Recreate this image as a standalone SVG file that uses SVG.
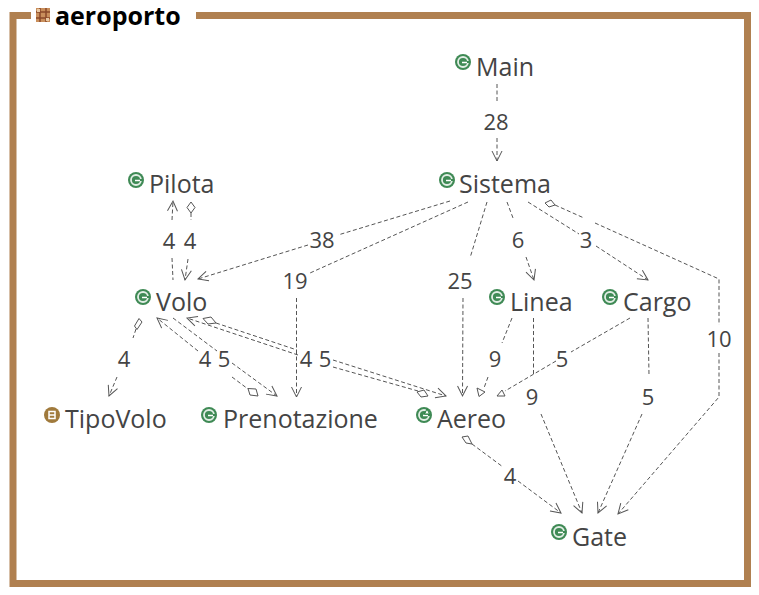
<svg xmlns="http://www.w3.org/2000/svg" width="759" height="595" viewBox="0 0 759 595">
<style>
text{font-family:"Open Sans","Noto Sans","Liberation Sans",sans-serif}
.n{font-size:25px;fill:#444}
.l{font-size:22px;fill:#444;text-anchor:middle}
.t{font-size:25px;font-weight:700;fill:#000}
.e{fill:none;stroke:#555;stroke-width:1;stroke-dasharray:4 2.5}
.a{marker-end:url(#arrow)}
.d{fill:#fff;stroke:#555;stroke-width:1}
</style>
<defs>
<marker id="arrow" markerUnits="userSpaceOnUse" markerWidth="14" markerHeight="14" refX="11" refY="6" orient="auto"><path d="M1 1L11 6L1 11" fill="none" stroke="#555"/></marker>
<g id="c"><circle r="8" fill="#3f8a55"/><circle r="5" fill="none" stroke="#fff" stroke-opacity=".85" stroke-width="1.8"/><path d="M0 0H6" stroke="#3f8a55" stroke-width="2"/><path d="M-1 .5H4" stroke="#fff" stroke-width="1.5"/></g>
</defs>
<rect width="759" height="595" fill="#fff"/>
<g id="frame"><path d="M31 15.500H13V583.500H747.500V15.500H196" fill="none" stroke="#b08050" stroke-width="7"/>
<rect x="36" y="8" width="14" height="14" fill="#c98f5c"/><path d="M36 12H50M36 18H50M40 8V22M46 8V22" stroke="#8a4a2a" stroke-width="1.500" fill="none"/><path d="M37 9h3v3h-3zM46 18h3v3h-3z" fill="#e9c9a4"/>
<text class="t" x="55" y="25">aeroporto</text></g>
<g id="connectors">
<path class="e" d="M497 84V102"/><path class="e a" d="M497 138V161"/>
<path class="e" d="M450 201L338 235"/><path class="e a" d="M308 245L198 279"/>
<path class="e" d="M468 202L310 273"/><path class="e a" d="M296.500 298V397"/>
<path class="e" d="M487 202L470 258"/><path class="e a" d="M463 298L462.500 396"/>
<path class="e" d="M507 202L513 218"/><path class="e a" d="M526 257L534 280"/>
<path class="e" d="M528 202L579 234"/><path class="e a" d="M596 246L648 280"/>
<path class="d" d="M545 203L551 200L555 205L549 207Z"/><path class="e" d="M555 205L584 218M595 223L719 279V325"/><path class="e a" d="M719 353V397L618 514"/>
<path class="e a" d="M172 220L173 201"/><path class="e" d="M172 258L173 280"/>
<path class="d" d="M191 202L195 207.500L191 213L187 207.500Z"/><path class="e" d="M191 213V220"/><path class="e a" d="M188 259L185 280"/>
<path class="d" d="M134.500 326L139 318.500L142 322L137 329.500Z"/><path class="e" d="M136 329L133 338"/><path class="e a" d="M117 377L109 396"/>
<path class="e a" d="M198 351L157 318"/>
<path class="e" d="M173 318L217 351"/><path class="e a" d="M232 363L277 396"/>
<path class="d" d="M248 388.500L256 389L258 396L250 395Z"/><path class="e" d="M232 377L248 389"/>
<path class="e a" d="M298 355L187 318"/>
<path class="d" d="M203 318.500L211 317L216 323L208 324Z"/><path class="e" d="M216 323L297 350"/>
<path class="e a" d="M333 360L446 396"/>
<path class="e" d="M333 367L418 391"/><path class="d" d="M417 392L424 390L428 396L421 397Z"/>
<path class="e" d="M512 318L502 343M488 377L484 388"/><path class="d" d="M477 388L485 392L479 396.500Z"/>
<path class="e" d="M630 318L571 352M556 361L505 391"/><path class="d" d="M497 396L505 396L502 390Z"/>
<path class="e" d="M533.500 318V374"/><path class="e a" d="M541 414L582 513"/>
<path class="e" d="M648 318L649 375"/><path class="e a" d="M642 414L598 513"/>
<path class="d" d="M462 437L468 436L472 444L466 443Z"/><path class="e" d="M472 444L503 467"/><path class="e a" d="M518 481L561 513"/>
</g>
<g id="labels">
<text class="l" x="496" y="130">28</text>
<text class="l" x="322" y="248">38</text>
<text class="l" x="295" y="289">19</text>
<text class="l" x="460" y="289">25</text>
<text class="l" x="518" y="248">6</text>
<text class="l" x="586" y="248">3</text>
<text class="l" x="719" y="347">10</text>
<text class="l" x="169" y="249">4</text>
<text class="l" x="190" y="249">4</text>
<text class="l" x="124" y="367">4</text>
<text class="l" x="205" y="367">4</text>
<text class="l" x="224" y="367">5</text>
<text class="l" x="306" y="367">4</text>
<text class="l" x="325" y="367">5</text>
<text class="l" x="495" y="367">9</text>
<text class="l" x="562" y="367">5</text>
<text class="l" x="532" y="405">9</text>
<text class="l" x="648" y="405">5</text>
<text class="l" x="510" y="484">4</text>
</g>
<g id="node-main"><use href="#c" x="463" y="62"/><text class="n" x="476" y="76">Main</text></g>
<g id="node-pilota"><use href="#c" x="136" y="180"/><text class="n" x="149" y="193">Pilota</text></g>
<g id="node-sistema"><use href="#c" x="447" y="180"/><text class="n" x="459" y="193">Sistema</text></g>
<g id="node-volo"><use href="#c" x="143" y="297"/><text class="n" x="156" y="311">Volo</text></g>
<g id="node-linea"><use href="#c" x="497" y="297"/><text class="n" x="510" y="311">Linea</text></g>
<g id="node-cargo"><use href="#c" x="610" y="297"/><text class="n" x="623" y="311">Cargo</text></g>
<g id="node-tipovolo"><circle cx="52" cy="415" r="8" fill="#a07a3c"/><path d="M49 415H55M49 411.500H55V418.500H49Z" fill="none" stroke="#fff" stroke-width="1.500"/><text class="n" x="65" y="428">TipoVolo</text></g>
<g id="node-prenotazione"><use href="#c" x="209" y="415"/><text class="n" x="223" y="428">Prenotazione</text></g>
<g id="node-aereo"><use href="#c" x="424" y="415"/><path d="M427 409l2.500 5h-5z" fill="#fff" stroke="#1f7a3a"/><text class="n" x="437" y="428">Aereo</text></g>
<g id="node-gate"><use href="#c" x="559" y="532"/><text class="n" x="572" y="546">Gate</text></g>
</svg>
